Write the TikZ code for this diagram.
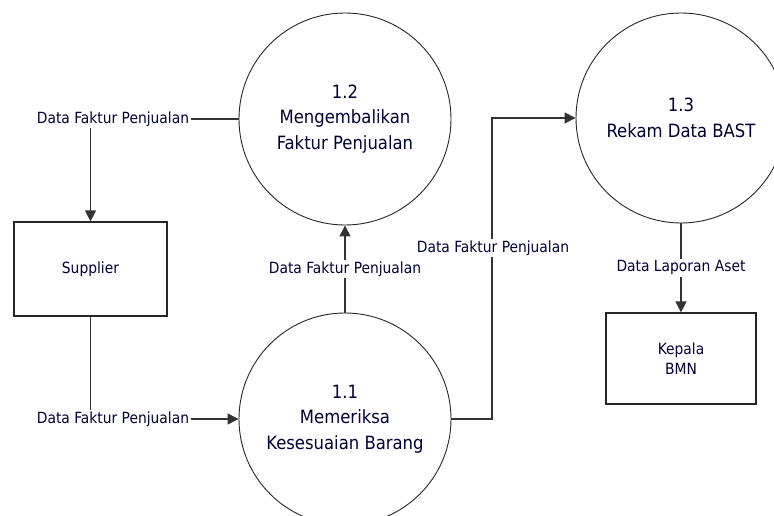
\documentclass[tikz,border=0pt]{standalone}
\usepackage{fontspec}
\setmainfont{DejaVu Sans Condensed}
\usetikzlibrary{arrows.meta,calc}
\begin{document}
\begin{tikzpicture}[x=1pt,y=1pt,
  proc/.style={draw=black!85,line width=0.9pt,circle,minimum size=212pt,inner sep=0pt,align=center,font=\fontsize{18.3}{25.5}\selectfont,text=black!80!blue},
  ent/.style={draw=black!85,line width=1.2pt,rectangle,inner sep=0pt,align=center,font=\fontsize{15.4}{20}\selectfont,text=black!80!blue},
  flow/.style={draw=black!80,line width=1.3pt},
  arr/.style={flow,-{Triangle[length=11pt,width=11pt]}},
  lbl/.style={font=\fontsize{15.4}{17}\selectfont,text=black!80!blue,inner sep=1.5pt,fill=white}]
\useasboundingbox (0,0) rectangle (774,515);
\clip (0,0) rectangle (774,515);
% processes
\node[proc] (c12) at (345,396) {1.2\\Mengembalikan\\Faktur Penjualan};
\node[proc,minimum size=210pt] (c13) at (681,397) {1.3\\Rekam Data BAST};
\node[proc] (c11) at (345,96) {1.1\\Memeriksa\\Kesesuaian Barang};
% entities
\node[ent,minimum width=153pt,minimum height=94pt] (sup) at (90.5,246) {Supplier};
\node[ent,minimum width=150pt,minimum height=91pt] (kep) at (681,156.5) {Kepala\\BMN};
% labels
\node[lbl] (l1) at (113,396) {Data Faktur Penjualan};
\node[lbl] (l2) at (113,96) {Data Faktur Penjualan};
\coordinate (k1) at (492,96);
\coordinate (k2) at (492,397);
% flows
\draw[flow] (c12.west) -- (l1.east);
\draw[arr] (l1.south -| sup.north) -- (sup.north);
\draw[flow] (sup.south) -- (l2.north -| sup.south);
\draw[arr] (l2.east) -- (c11.west);
\draw[arr] (c11.north) -- (c12.south) node[lbl,pos=0.5] (l3) {Data Faktur Penjualan};
\draw[arr] (c11.east) -- (k1) -- (k2) -- (c13.west);
\node[lbl] (l4) at (493,267) {Data Faktur Penjualan};
\draw[arr] (c13.south) -- (kep.north) node[lbl,pos=0.5] (l5) {Data Laporan Aset};
\end{tikzpicture}
\end{document}
